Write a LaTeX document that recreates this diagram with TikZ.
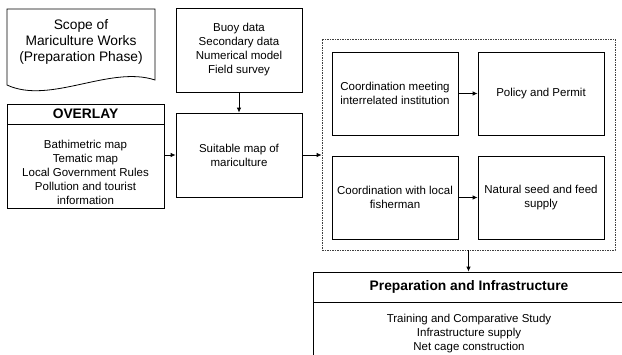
\documentclass[tikz,border=0pt]{standalone}
\usepackage{fontspec}
\setmainfont{Liberation Sans}
\usetikzlibrary{arrows.meta}
\begin{document}
\begin{tikzpicture}[x=1pt,y=-1pt,
  box/.style={draw, line width=0.8pt, align=center, inner sep=0pt, font=\fontsize{11.5}{14}\selectfont},
  txt/.style={align=center, inner sep=0pt, font=\fontsize{11.5}{14}\selectfont},
  big/.style={font=\fontsize{13.8}{16}\selectfont},
  bigb/.style={font=\fontsize{13.8}{16}\selectfont\bfseries},
  arr/.style={-{Latex[length=5pt,width=4.5pt]}, line width=0.8pt},
  dashbox/.style={draw=black!75, line width=0.8pt, dash pattern=on 1.5pt off 1pt}]
\useasboundingbox (0,0) rectangle (622,354);
% document shape
\draw[line width=0.8pt] (7,9) -- (155,9) -- (155,80) .. controls (110,65) and (50,105) .. (7,85) -- cycle;
\node[big, align=center, inner sep=0pt] (scope) at (81,42) {Scope of\\Mariculture Works\\(Preparation Phase)};
% left column
\node[box, minimum width=126pt, minimum height=84pt] (buoy) at (239,50) {Buoy data\\Secondary data\\Numerical model\\Field survey};
\node[box, minimum width=126pt, minimum height=84pt] (suit) at (239,155) {Suitable map of\\mariculture};
\node[box, bigb, minimum width=157pt, minimum height=20pt] (ovh) at (85.5,114) {OVERLAY};
\node[box, minimum width=157pt, minimum height=84pt] (ovb) at (85.5,166) {};
\node[txt] (ovt) at (85.5,172) {Bathimetric map\\Tematic map\\Local Government Rules\\Pollution and tourist\\information};
% dashed group
\node[dashbox, minimum width=293pt, minimum height=211pt] (grp) at (468.5,144.5) {};
\node[box, minimum width=126pt, minimum height=83pt] (tl) at (395,93.5) {Coordination meeting\\interrelated institution};
\node[box, minimum width=126pt, minimum height=83pt] (tr) at (541,93.5) {Policy and Permit};
\node[box, minimum width=126pt, minimum height=83pt] (bl) at (395,197.5) {Coordination with local\\fisherman};
\node[box, minimum width=126pt, minimum height=83pt] (br) at (541,197.5) {Natural seed and feed\\supply};
% bottom box
\node[box, bigb, minimum width=312pt, minimum height=30pt] (bh) at (469,287) {Preparation and Infrastructure};
\node[box, minimum width=312pt, minimum height=64pt] (bb) at (469,334) {Training and Comparative Study\\Infrastructure supply\\Net cage construction};
% connectors
\draw[arr] (ovb.east |- suit.west) -- (suit.west);
\draw[arr] (buoy) -- (suit);
\draw[arr] (suit.east) -- (suit.east -| grp.west);
\draw[arr] (tl) -- (tr);
\draw[arr] (bl) -- (br);
\draw[arr] (grp.south) -- (grp.south |- bh.north);
\end{tikzpicture}
\end{document}
